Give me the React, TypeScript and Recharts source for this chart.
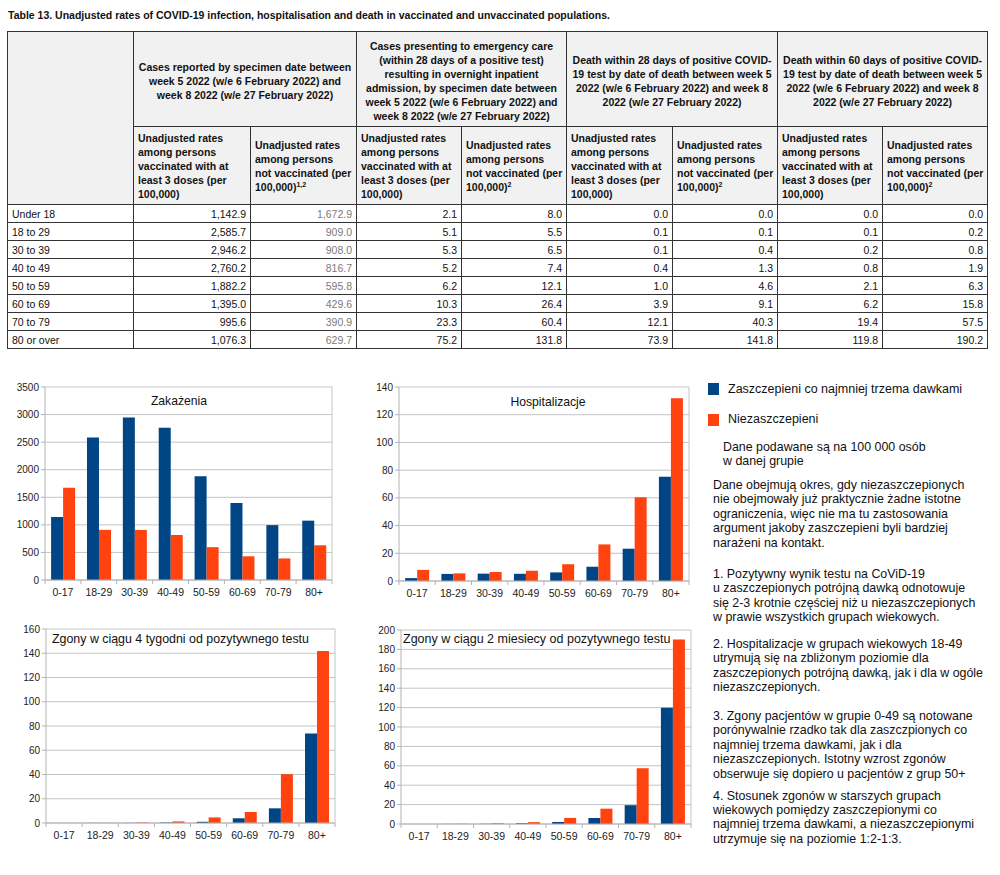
import React from 'react';
import { BarChart, Bar, XAxis, YAxis, CartesianGrid } from 'recharts';

const FONT = '"Liberation Sans", Arial, Helvetica, sans-serif';
const BLUE = '#004586';
const ORANGE = '#ff420e';

// ---------- data ----------
const tableAgeGroups = ['Under 18', '18 to 29', '30 to 39', '40 to 49', '50 to 59', '60 to 69', '70 to 79', '80 or over'];
const chartAgeGroups = ['0-17', '18-29', '30-39', '40-49', '50-59', '60-69', '70-79', '80+'];

const casesVaccinated = [1142.9, 2585.7, 2946.2, 2760.2, 1882.2, 1395.0, 995.6, 1076.3];
const casesUnvaccinated = [1672.9, 909.0, 908.0, 816.7, 595.8, 429.6, 390.9, 629.7];
const hospVaccinated = [2.1, 5.1, 5.3, 5.2, 6.2, 10.3, 23.3, 75.2];
const hospUnvaccinated = [8.0, 5.5, 6.5, 7.4, 12.1, 26.4, 60.4, 131.8];
const death28Vaccinated = [0.0, 0.1, 0.1, 0.4, 1.0, 3.9, 12.1, 73.9];
const death28Unvaccinated = [0.0, 0.1, 0.4, 1.3, 4.6, 9.1, 40.3, 141.8];
const death60Vaccinated = [0.0, 0.1, 0.2, 0.8, 2.1, 6.2, 19.4, 119.8];
const death60Unvaccinated = [0.0, 0.2, 0.8, 1.9, 6.3, 15.8, 57.5, 190.2];

const casesTicks = [0, 500, 1000, 1500, 2000, 2500, 3000, 3500];
const hospTicks = [0, 20, 40, 60, 80, 100, 120, 140];
const death28Ticks = [0, 20, 40, 60, 80, 100, 120, 140, 160];
const death60Ticks = [0, 20, 40, 60, 80, 100, 120, 140, 160, 180, 200];

const tableTitle = 'Table 13. Unadjusted rates of COVID-19 infection, hospitalisation and death in vaccinated and unvaccinated populations.';
const groupHeaders = [
  ['Cases reported by specimen date between', 'week 5 2022 (w/e 6 February 2022) and', 'week 8 2022 (w/e 27 February 2022)'],
  ['Cases presenting to emergency care', '(within 28 days of a positive test)', 'resulting in overnight inpatient', 'admission, by specimen date between', 'week 5 2022 (w/e 6 February 2022) and', 'week 8 2022 (w/e 27 February 2022)'],
  ['Death within 28 days of positive COVID-', '19 test by date of death between week 5', '2022 (w/e 6 February 2022) and week 8', '2022 (w/e 27 February 2022)'],
  ['Death within 60 days of positive COVID-', '19 test by date of death between week 5', '2022 (w/e 6 February 2022) and week 8', '2022 (w/e 27 February 2022)'],
];
const subHeaderVaccinated = ['Unadjusted rates', 'among persons', 'vaccinated with at', 'least 3 doses (per', '100,000)'];
const subHeaderUnvaccinated = ['Unadjusted rates', 'among persons', 'not vaccinated (per', '100,000)'];
const unvaccinatedNotes = ['1,2', '2', '2', '2'];

const chartTitles = ['Zakażenia', 'Hospitalizacje', 'Zgony w ciągu 4 tygodni od pozytywnego testu', 'Zgony w ciągu 2 miesiecy od pozytywnego testu'];
const legendLabels = ['Zaszczepieni co najmniej trzema dawkami', 'Niezaszczepieni'];
const noteLines = ['Dane podawane są na 100 000 osób', 'w danej grupie'];
const contextLines = [
  'Dane obejmują okres, gdy niezaszczepionych',
  'nie obejmowały już praktycznie żadne istotne',
  'ograniczenia, więc nie ma tu zastosowania',
  'argument jakoby zaszczepieni byli bardziej',
  'narażeni na kontakt.',
];
const findings = [
  ['1. Pozytywny wynik testu na CoViD-19', 'u zaszczepionych potrójną dawką odnotowuje', 'się 2-3 krotnie częściej niż u niezaszczepionych', 'w prawie wszystkich grupach wiekowych.'],
  ['2. Hospitalizacje w grupach wiekowych 18-49', 'utrymują się na zbliżonym poziomie dla', 'zaszczepionych potrójną dawką, jak i dla w ogóle', 'niezaszczepionych.'],
  ['3. Zgony pacjentów w grupie 0-49 są notowane', 'porónywalnie rzadko tak dla zaszczpionych co', 'najmniej trzema dawkami, jak i dla', 'niezaszczepionych. Istotny wzrost zgonów', 'obserwuje się dopiero u pacjentów z grup 50+'],
  ['4. Stosunek zgonów w starszych grupach', 'wiekowych pomiędzy zaszczepionymi co', 'najmniej trzema dawkami, a niezaszczepionymi', 'utrzymuje się na poziomie 1:2-1:3.'],
];

// ---------- helpers ----------
const fmt = (v: number) =>
  v.toLocaleString('en-US', { minimumFractionDigits: 1, maximumFractionDigits: 1 });

const lines = (arr: string[]) =>
  arr.map((l, i) => (
    <React.Fragment key={i}>
      {l}
      {i < arr.length - 1 ? <br /> : null}
    </React.Fragment>
  ));

type Plot = { l: number; t: number; r: number; b: number };
type ChartProps = {
  x: number; y: number; w: number; h: number;
  plot: Plot;
  vacc: number[]; unvacc: number[];
  ticks: number[];
  title: string;
  titleX: number; titleY: number; titleAlign: 'center' | 'left'; titleSize: number;
};

const TICK_SIZE = 4;
const TICK_MARGIN = 6;
const X_AXIS_H = 24;

function AgeChart(p: ChartProps) {
  const data = chartAgeGroups.map((g, i) => ({ group: g, vacc: p.vacc[i], unvacc: p.unvacc[i] }));
  const margin = {
    top: p.plot.t - p.y,
    right: p.x + p.w - p.plot.r,
    left: 0,
    bottom: p.h - (p.plot.b - p.y) - X_AXIS_H,
  };
  const yW = p.plot.l - p.x;
  const bw = (p.plot.r - p.plot.l) / chartAgeGroups.length;
  const last = chartAgeGroups.length - 1;

  const Tick = (props: any) => {
    const { x, y, payload, index } = props;
    const axisY = y - TICK_SIZE - TICK_MARGIN;
    return (
      <g>
        <line x1={x - bw / 2} x2={x - bw / 2} y1={axisY} y2={axisY + 4} stroke="#b3b3b3" />
        {index === last ? (
          <line x1={x + bw / 2} x2={x + bw / 2} y1={axisY} y2={axisY + 4} stroke="#b3b3b3" />
        ) : null}
        <text x={x} y={y - 1} dy="0.71em" textAnchor="middle" fontSize={10.5} fill="#222" fontFamily={FONT}>
          {payload.value}
        </text>
      </g>
    );
  };

  const max = p.ticks[p.ticks.length - 1];

  return (
    <>
      <div style={{ position: 'absolute', left: p.x, top: p.y, width: p.w, height: p.h }}>
        <BarChart width={p.w} height={p.h} data={data} margin={margin} barCategoryGap="17%" barGap={0}>
          <CartesianGrid
            stroke="#c4c4c4"
            vertical={true}
            verticalCoordinatesGenerator={({ offset }: any) => [
              offset ? offset.left + offset.width : p.plot.r - p.x,
            ]}
          />
          <XAxis
            dataKey="group"
            height={X_AXIS_H}
            tickLine={false}
            tickSize={TICK_SIZE}
            tickMargin={TICK_MARGIN}
            axisLine={{ stroke: '#b3b3b3' }}
            interval={0}
            tick={<Tick />}
          />
          <YAxis
            width={yW}
            type="number"
            domain={[0, max]}
            ticks={p.ticks}
            interval={0}
            tickSize={4}
            tickMargin={2}
            axisLine={{ stroke: '#b3b3b3' }}
            tickLine={{ stroke: '#b3b3b3' }}
            tick={{ fontSize: 10, fill: '#222', fontFamily: FONT }}
          />
          <Bar dataKey="vacc" fill={BLUE} isAnimationActive={false} />
          <Bar dataKey="unvacc" fill={ORANGE} isAnimationActive={false} />
        </BarChart>
      </div>
      <div
        style={{
          position: 'absolute',
          left: p.titleAlign === 'center' ? p.titleX - 150 : p.titleX,
          width: p.titleAlign === 'center' ? 300 : 320,
          top: p.titleY - 10,
          height: 20,
          lineHeight: '20px',
          textAlign: p.titleAlign,
          fontSize: p.titleSize,
          fontFamily: FONT,
          color: '#111',
          whiteSpace: 'nowrap',
        }}
      >
        {p.title}
      </div>
    </>
  );
}

const colWidths = [126, 117, 106, 105, 105, 106, 105, 105, 105];
const BORDER = '1px solid #333';
const HEADER_BG = '#f1f1f1';
const TABLE_FS = 10.5;

function DataTable() {
  const columns = [
    casesVaccinated, casesUnvaccinated, hospVaccinated, hospUnvaccinated,
    death28Vaccinated, death28Unvaccinated, death60Vaccinated, death60Unvaccinated,
  ];
  const th: React.CSSProperties = {
    border: BORDER,
    background: HEADER_BG,
    fontWeight: 'bold',
    fontSize: TABLE_FS,
    lineHeight: '14px',
    padding: '0 4px',
    verticalAlign: 'middle',
    color: '#111',
    whiteSpace: 'nowrap',
  };
  const td: React.CSSProperties = {
    border: BORDER,
    fontSize: TABLE_FS,
    lineHeight: '14px',
    padding: '0 4px',
    verticalAlign: 'middle',
    whiteSpace: 'nowrap',
    color: '#111',
  };
  return (
    <table
      style={{
        position: 'absolute',
        left: 7,
        top: 31,
        width: 980,
        borderCollapse: 'collapse',
        tableLayout: 'fixed',
        fontFamily: FONT,
      }}
    >
      <colgroup>
        {colWidths.map((w, i) => (
          <col key={i} style={{ width: w }} />
        ))}
      </colgroup>
      <thead>
        <tr style={{ height: 95 }}>
          <th rowSpan={2} style={th}></th>
          {groupHeaders.map((g, i) => (
            <th key={i} colSpan={2} style={{ ...th, textAlign: 'center', paddingTop: 4 }}>
              {lines(g)}
            </th>
          ))}
        </tr>
        <tr style={{ height: 78 }}>
          {groupHeaders.map((_, i) => (
            <React.Fragment key={i}>
              <th style={{ ...th, textAlign: 'left' }}>{lines(subHeaderVaccinated)}</th>
              <th style={{ ...th, textAlign: 'left' }}>
                {subHeaderUnvaccinated.slice(0, -1).map((l, k) => (
                  <React.Fragment key={k}>
                    {l}
                    <br />
                  </React.Fragment>
                ))}
                {subHeaderUnvaccinated[subHeaderUnvaccinated.length - 1]}
                <sup style={{ fontSize: 7, lineHeight: 0 }}>{unvaccinatedNotes[i]}</sup>
              </th>
            </React.Fragment>
          ))}
        </tr>
      </thead>
      <tbody>
        {tableAgeGroups.map((g, r) => (
          <tr key={g} style={{ height: 18 }}>
            <td style={{ ...td, textAlign: 'left' }}>{g}</td>
            {columns.map((col, c) => (
              <td key={c} style={{ ...td, textAlign: 'right', color: c === 1 ? '#7a7a7a' : '#111' }}>
                {fmt(col[r])}
              </td>
            ))}
          </tr>
        ))}
      </tbody>
    </table>
  );
}

const textBlock = (left: number, top: number, arr: string[], size = 12, lh = 14.4) => (
  <div
    style={{
      position: 'absolute',
      left,
      top,
      fontSize: size,
      lineHeight: `${lh}px`,
      fontFamily: FONT,
      color: '#111',
      whiteSpace: 'nowrap',
    }}
  >
    {lines(arr)}
  </div>
);

export default function App() {
  return (
    <div
      style={{
        position: 'absolute',
        left: 0,
        top: 0,
        width: 1000,
        height: 875,
        background: '#fff',
        fontFamily: FONT,
        overflow: 'hidden',
      }}
    >
      <div
        style={{
          position: 'absolute',
          left: 8,
          top: 9,
          fontSize: 10.5,
          lineHeight: '13px',
          fontWeight: 'bold',
          whiteSpace: 'nowrap',
          color: '#111',
        }}
      >
        {tableTitle}
      </div>
      <DataTable />

      <AgeChart
        x={0} y={370} w={350} h={240}
        plot={{ l: 45, t: 387, r: 332, b: 580 }}
        vacc={casesVaccinated} unvacc={casesUnvaccinated}
        ticks={casesTicks}
        title={chartTitles[0]}
        titleX={179} titleY={401} titleAlign="center" titleSize={12.2}
      />
      <AgeChart
        x={350} y={370} w={355} h={240}
        plot={{ l: 399, t: 387, r: 689, b: 581 }}
        vacc={hospVaccinated} unvacc={hospUnvaccinated}
        ticks={hospTicks}
        title={chartTitles[1]}
        titleX={548} titleY={402} titleAlign="center" titleSize={12.2}
      />
      <AgeChart
        x={0} y={615} w={350} h={240}
        plot={{ l: 46, t: 629, r: 335, b: 823 }}
        vacc={death28Vaccinated} unvacc={death28Unvaccinated}
        ticks={death28Ticks}
        title={chartTitles[2]}
        titleX={52} titleY={639} titleAlign="left" titleSize={12.4}
      />
      <AgeChart
        x={355} y={615} w={350} h={240}
        plot={{ l: 401, t: 630, r: 691, b: 824 }}
        vacc={death60Vaccinated} unvacc={death60Unvaccinated}
        ticks={death60Ticks}
        title={chartTitles[3]}
        titleX={403} titleY={639} titleAlign="left" titleSize={12.5}
      />

      {/* legend */}
      <div style={{ position: 'absolute', left: 708, top: 383, width: 11, height: 12, background: BLUE }} />
      <div style={{ position: 'absolute', left: 708, top: 414, width: 11, height: 12, background: ORANGE }} />
      {textBlock(728, 382, [legendLabels[0]], 12.5, 15)}
      {textBlock(728, 412, [legendLabels[1]], 12.5, 15)}

      {textBlock(723, 440, noteLines, 12.4, 14.4)}
      {textBlock(713, 478, contextLines, 12.4, 14.4)}
      {textBlock(713, 567, findings[0], 12.4, 14.3)}
      {textBlock(713, 637, findings[1], 12.4, 14.3)}
      {textBlock(713, 709, findings[2], 12.4, 14.4)}
      {textBlock(713, 789, findings[3], 12.4, 14.2)}
    </div>
  );
}
